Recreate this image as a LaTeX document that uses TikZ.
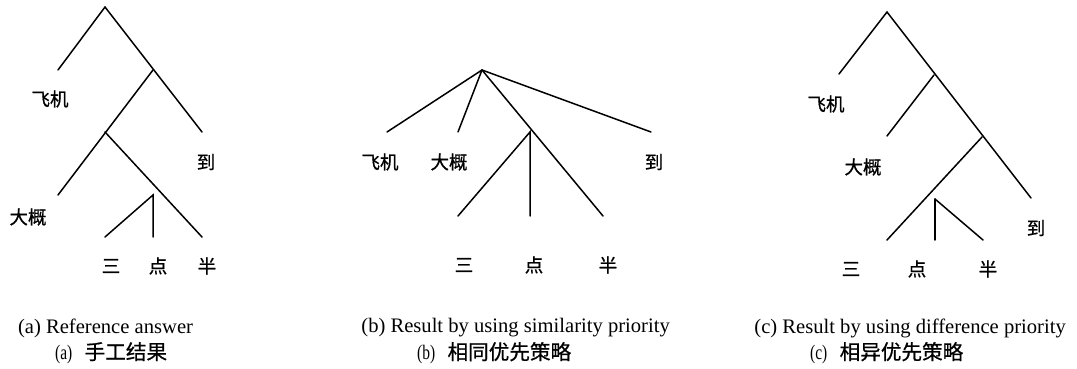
\documentclass[tikz,border=0pt]{standalone}
\usepackage{fontspec}
\usepackage{graphicx}
\setmainfont{Liberation Serif}
\newfontfamily\cjk[FakeBold=0.8]{Noto Sans CJK SC}
\tikzset{
  edge/.style={line width=1.5pt, line cap=round},
  lbl/.style={inner sep=0pt, font=\cjk\fontsize{18.5}{20}\selectfont},
  encap/.style={inner sep=0pt, font=\fontsize{20.6}{24}\selectfont},
  zhcap/.style={inner sep=0pt, anchor=west, font=\fontsize{20.6}{24}\selectfont}
}
\begin{document}
\begin{tikzpicture}[x=1pt,y=-1pt]
\useasboundingbox (0,0) rectangle (1077,369);
% ---- tree (a)
\coordinate (a0) at (105,7);
\coordinate (a1) at (58,70);
\coordinate (aA) at (153,70);
\coordinate (a2) at (202,132);
\coordinate (aB) at (105,132);
\coordinate (a3) at (58,195);
\coordinate (aC) at (153,195);
\coordinate (a4) at (105,237);
\coordinate (a5) at (153,237);
\coordinate (a6) at (202,237);
\draw[edge] (a1) -- (a0) -- (a2);
\draw[edge] (a3) -- (aA);
\draw[edge] (aB) -- (a6);
\draw[edge] (a4) -- (aC) -- (a5);
\node[lbl] (la1) at (50,99) {飞机};
\node[lbl] (la2) at (206,162) {到};
\node[lbl] (la3) at (28,217) {大概};
\node[lbl] (la4) at (111,266) {三};
\node[lbl] (la5) at (158,266) {点};
\node[lbl] (la6) at (207,266) {半};
% ---- tree (b)
\coordinate (b0) at (482,70);
\coordinate (b1) at (387,132);
\coordinate (b2) at (458,132);
\coordinate (bD) at (530,132);
\coordinate (b3) at (651,132);
\coordinate (b4) at (458,216);
\coordinate (b5) at (530,216);
\coordinate (b6) at (603,216);
\draw[edge] (b0) -- (b1);
\draw[edge] (b0) -- (b2);
\draw[edge] (b0) -- (b6);
\draw[edge] (b0) -- (b3);
\draw[edge] (b4) -- (bD) -- (b5);
\node[lbl] (lb1) at (380,162) {飞机};
\node[lbl] (lb2) at (449,162) {大概};
\node[lbl] (lb3) at (654,162) {到};
\node[lbl] (lb4) at (464,265) {三};
\node[lbl] (lb5) at (534,265) {点};
\node[lbl] (lb6) at (608,265) {半};
% ---- tree (c)
\coordinate (c0) at (887,12);
\coordinate (c1) at (839,74);
\coordinate (cE) at (934,75);
\coordinate (c2) at (887,136);
\coordinate (cF) at (982,137);
\coordinate (c3) at (1031,198);
\coordinate (cG) at (935,199);
\coordinate (c4) at (887,240);
\coordinate (c5) at (935,240);
\coordinate (c6) at (983,240);
\draw[edge] (c1) -- (c0) -- (c3);
\draw[edge] (c2) -- (cE);
\draw[edge] (c4) -- (cF);
\draw[edge] (cG) -- (c6);
\draw[edge] (cG) -- (c5);
\node[lbl] (lc1) at (826,104) {飞机};
\node[lbl] (lc2) at (863,167) {大概};
\node[lbl] (lc3) at (1036,228) {到};
\node[lbl] (lc4) at (851,269) {三};
\node[lbl] (lc5) at (917,269) {点};
\node[lbl] (lc6) at (988,269) {半};
% ---- captions
\node[encap] (ea) at (105.5,328) {(a) Reference answer};
\node[encap, anchor=east] (eb) at (670,328) {(b) Result by using similarity priority};
\node[encap, anchor=east] (ec) at (1066,328) {(c) Result by using difference priority};
\node[zhcap] (za) at (55,353) {\scalebox{0.75}[1]{(a)}\hspace{0.6em}{\cjk 手工结果}};
\node[zhcap] (zb) at (417,353) {\scalebox{0.75}[1]{(b)}\hspace{0.6em}{\cjk 相同优先策略}};
\node[zhcap] (zc) at (810,353) {\scalebox{0.75}[1]{(c)}\hspace{0.6em}{\cjk 相异优先策略}};
\end{tikzpicture}
\end{document}
